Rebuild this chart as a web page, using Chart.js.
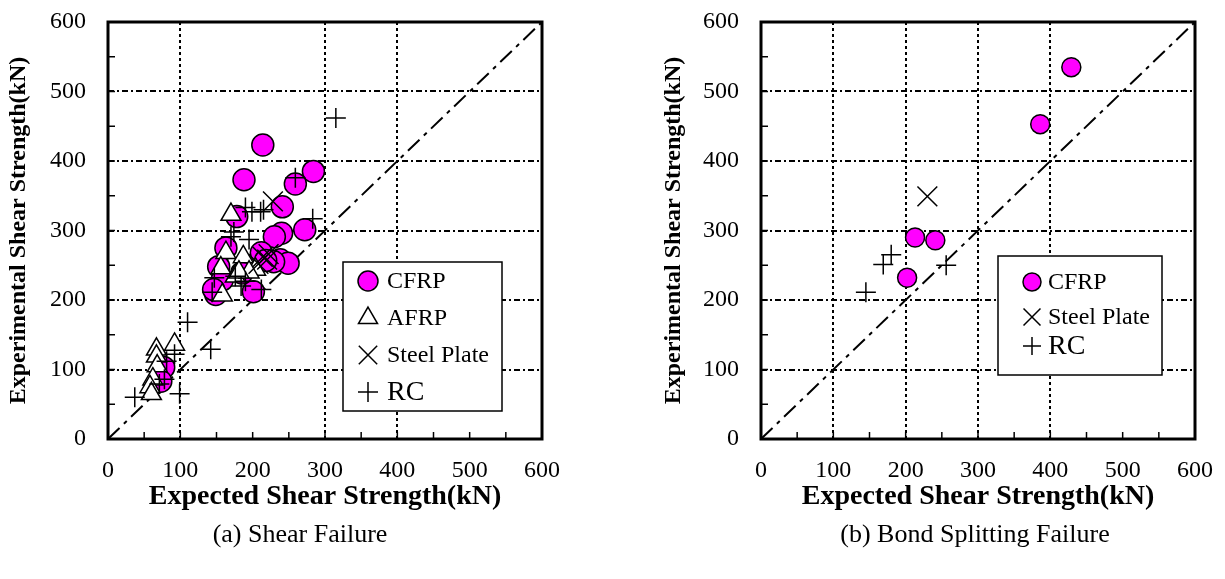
<!DOCTYPE html>
<html>
<head>
<meta charset="utf-8">
<script src="https://cdn.jsdelivr.net/npm/chart.js@4.4.1/dist/chart.umd.min.js"></script>
<style>
    body { margin: 0; background: #fff; width: 1225px; height: 579px; position: relative; overflow: hidden; font-family: "Liberation Serif", "Times New Roman", serif; }
    .panel { position: absolute; top: 0; height: 579px; }
    #pa { left: 0; width: 600px; }
    #pb { left: 655px; width: 570px; }
    .cap { position: absolute; top: 519px; font-size: 26px; white-space: nowrap; transform: translateX(-50%); }
</style>
</head>
<body>
<div class="panel" id="pa"><canvas id="chartA"></canvas></div>
<div class="panel" id="pb"><canvas id="chartB"></canvas></div>
<div class="cap" style="left:300px">(a) Shear Failure</div>
<div class="cap" style="left:975px">(b) Bond Splitting Failure</div>
<script>
// axis values
const axisTicks = [0, 100, 200, 300, 400, 500, 600];
const minorTicks = [0, 50, 100, 150, 200, 250, 300, 350, 400, 450, 500, 550, 600];
const diagonal = [[0, 0], [600, 600]];

// (a) Shear Failure  [expected, experimental] kN
const cfrpA = [[214,423],[188,373],[284,385],[259,367],[241,334],[178,320],[240,296],[230,291],[272,301],
    [163,275],[212,268],[238,258],[249,253],[229,255],[218,257],[153,248],[149,208],[201,212],[185,239],
    [158,229],[146,215],[77,103],[73,83]];
const afrpA = [[170,323],[163,268],[187,262],[156,246],[158,207],[204,244],[176,234],[195,240],[181,240],
    [67,129],[92,136],[67,119],[68,105],[62,86],[58,75],[60,65]];
const steelA = [[228,342],[214,262],[220,258],[208,252],[222,266]];
const rcA = [[259,376],[199,327],[211,327],[190,333],[283,317],[174,298],[195,287],[147,232],[144,211],
    [212,215],[184,220],[190,227],[176,234],[170,291],[215,330],[315,462],[110,168],[142,129],[92,122],
    [81,112],[78,86],[71,79],[99,65],[37,60]];

// (b) Bond Splitting Failure
const cfrpB = [[429,535],[386,453],[213,290],[241,286],[202,232]];
const steelB = [[230,349]];
const rcB = [[180,265],[169,251],[145,211],[256,250]];

const toXY = arr => arr.map(p => ({ x: p[0], y: p[1] }));
const serif = '"Liberation Serif", "Times New Roman", serif';

function series(label, data, kind, r) {
    const base = { label: label, data: toXY(data), borderColor: '#000', pointBorderColor: '#000' };
    if (kind === 'cfrp') return { ...base, order: 4, pointStyle: 'circle', pointRadius: r, pointBackgroundColor: '#ff00ff', pointBorderWidth: 1.5 };
    if (kind === 'afrp') return { ...base, order: 3, pointStyle: 'triangle', pointRadius: 11.5, pointBackgroundColor: '#fff', pointBorderWidth: 1.5 };
    if (kind === 'steel') return { ...base, order: 2, pointStyle: 'crossRot', pointRadius: 14, pointBorderWidth: 1.5 };
    return { ...base, order: 1, pointStyle: 'cross', pointRadius: 10, pointBorderWidth: 1.5 };
}

const diagLine = {
    label: 'diag', data: toXY(diagonal), showLine: true, order: 5, pointRadius: 0,
    borderColor: '#000', borderWidth: 2, borderDash: [16, 6, 4, 6], fill: false
};

// frame, inner minor ticks and the boxed legend
const framePlugin = {
    id: 'frame',
    afterDraw(chart, args, opts) {
        const { ctx, chartArea: a, scales } = chart;
        ctx.save();
        ctx.strokeStyle = '#000';
        ctx.lineWidth = 1.5;
        minorTicks.forEach(v => {
            const px = scales.x.getPixelForValue(v);
            ctx.beginPath(); ctx.moveTo(px, a.bottom); ctx.lineTo(px, a.bottom - 7); ctx.stroke();
            const py = scales.y.getPixelForValue(v);
            ctx.beginPath(); ctx.moveTo(a.left, py); ctx.lineTo(a.left + 7, py); ctx.stroke();
        });
        ctx.lineWidth = 3;
        ctx.strokeRect(a.left, a.top, a.right - a.left, a.bottom - a.top);

        // legend
        const b = opts.box;
        ctx.fillStyle = '#fff';
        ctx.fillRect(b.x, b.y, b.w, b.h);
        ctx.lineWidth = 1.5;
        ctx.strokeRect(b.x, b.y, b.w, b.h);
        const sets = chart.data.datasets.filter(d => d.label !== 'diag');
        sets.forEach((d, i) => {
            const row = opts.rows[i];
            ctx.fillStyle = d.pointBackgroundColor || '#000';
            ctx.strokeStyle = '#000';
            ctx.lineWidth = 1.5;
            Chart.helpers.drawPoint(ctx, {
                pointStyle: d.pointStyle, rotation: 0, borderWidth: 1.5,
                radius: row.r
            }, opts.markX, row.y);
            ctx.fillStyle = '#000';
            ctx.font = row.size + 'px ' + serif;
            ctx.textBaseline = 'middle';
            ctx.fillText(d.label, opts.textX, row.y + 1);
        });
        ctx.restore();
    }
};

function makeChart(id, datasets, opts) {
    const gridColor = c => {
        const v = c.tick ? c.tick.value : -1;
        return (v % 100 === 0 && v > 0 && v < 600 && !opts.skipX.includes(v)) ? '#000' : 'rgba(0,0,0,0)';
    };
    const gridColorY = c => {
        const v = c.tick ? c.tick.value : -1;
        return (v % 100 === 0 && v > 0 && v < 600) ? '#000' : 'rgba(0,0,0,0)';
    };
    return new Chart(document.getElementById(id), {
        type: 'scatter',
        data: { datasets: datasets.concat([diagLine]) },
        options: {
            responsive: true,
            maintainAspectRatio: false,
            animation: false,
            events: [],
            layout: { autoPadding: false, padding: { top: 22, right: opts.padRight, bottom: 65, left: 0 } },
            plugins: {
                legend: { display: false },
                tooltip: { enabled: false },
                frame: opts.legend
            },
            scales: {
                x: {
                    type: 'linear', min: 0, max: 600,
                    afterFit: s => { s.height = 75; s.paddingLeft = 0; s.paddingRight = 0; },
                    afterBuildTicks: s => { s.ticks = minorTicks.map(v => ({ value: v })); },
                    grid: { color: gridColor, lineWidth: 2, drawTicks: false },
                    border: { display: false, dash: [3, 3] },
                    ticks: {
                        padding: 17, color: '#000', maxRotation: 0, autoSkip: false,
                        font: { family: serif, size: 24 },
                        callback: v => axisTicks.includes(v) ? String(v) : ''
                    },
                    title: {
                        display: true, text: 'Expected Shear Strength(kN)', color: '#000',
                        font: { family: serif, size: 28, weight: 'bold' },
                        padding: { top: 0, bottom: 0 }
                    }
                },
                y: {
                    type: 'linear', min: 0, max: 600,
                    afterFit: s => { s.width = opts.yWidth; s.paddingTop = 0; s.paddingBottom = 0; },
                    afterBuildTicks: s => { s.ticks = minorTicks.map(v => ({ value: v })); },
                    grid: { color: gridColorY, lineWidth: 2, drawTicks: false },
                    border: { display: false, dash: [6, 3, 2, 3] },
                    ticks: {
                        padding: 22, color: '#000', autoSkip: false,
                        font: { family: serif, size: 24 },
                        callback: v => axisTicks.includes(v) ? String(v) : ''
                    },
                    title: {
                        display: true, text: 'Experimental Shear Strength(kN)', color: '#000',
                        font: { family: serif, size: 24, weight: 'bold' },
                        padding: { top: 4, bottom: 0 }
                    }
                }
            }
        },
        plugins: [framePlugin]
    });
}

makeChart('chartA', [
    series('CFRP', cfrpA, 'cfrp', 11),
    series('AFRP', afrpA, 'afrp'),
    series('Steel Plate', steelA, 'steel'),
    series('RC', rcA, 'rc')
], {
    yWidth: 108, padRight: 58, skipX: [200, 500],
    legend: {
        box: { x: 343, y: 262, w: 159, h: 149 },
        markX: 368, textX: 387,
        rows: [{ y: 281, r: 10, size: 24 }, { y: 318, r: 11, size: 24 }, { y: 355, r: 13, size: 24 }, { y: 392, r: 10, size: 28 }]
    }
});

makeChart('chartB', [
    series('CFRP', cfrpB, 'cfrp', 9.5),
    series('Steel Plate', steelB, 'steel'),
    series('RC', rcB, 'rc')
], {
    yWidth: 106, padRight: 30, skipX: [500],
    legend: {
        box: { x: 998 - 655, y: 256, w: 164, h: 119 },
        markX: 1032 - 655, textX: 1048 - 655,
        rows: [{ y: 282, r: 9, size: 24 }, { y: 317, r: 12, size: 24 }, { y: 346, r: 9, size: 28 }]
    }
});
</script>
</body>
</html>
